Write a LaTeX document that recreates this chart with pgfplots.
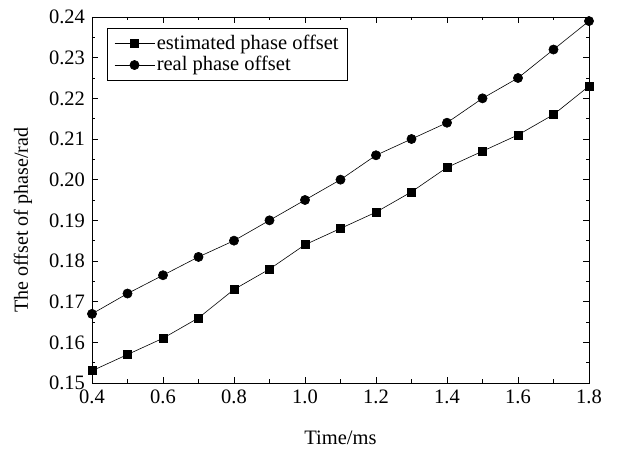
\documentclass[border=0pt]{standalone}
\usepackage{pgfplots}
\pgfplotsset{compat=1.18}
\usepackage{fontspec}
\setmainfont{Liberation Serif}

\begin{document}
\fontsize{20.5}{24}\selectfont
\begin{tikzpicture}
\path[use as bounding box] (-92pt,-69pt) rectangle (530pt,383pt);
\begin{axis}[
    at={(0pt,0pt)}, anchor=south west,
    scale only axis,
    width=497pt, height=366pt,
    xmin=0.4, xmax=1.8, ymin=0.15, ymax=0.24,
    xtick={0.4,0.6,...,1.8}, ytick={0.15,0.16,...,0.24},
    minor x tick num=1, minor y tick num=1,
    tick align=inside, tick pos=both,
    major tick length=6pt, minor tick length=3.5pt,
    every tick/.style={black, line width=0.6pt},
    axis line style={line width=0.8pt},
    xticklabel style={/pgf/number format/.cd, fixed, fixed zerofill, precision=1},
    yticklabel style={/pgf/number format/.cd, fixed, fixed zerofill, precision=2},
    /pgf/number format/assume math mode=true,
    xlabel={Time/ms}, ylabel={The offset of phase/rad},
    every axis x label/.style={at={(axis description cs:0.5,-0.15)}, anchor=center},
    every axis y label/.style={at={(axis description cs:-0.139,0.445)}, rotate=90, anchor=center,
        font=\fontsize{20}{24}\selectfont},
    legend style={at={(0.03,0.97)}, anchor=north west, draw=black,
        line width=0.6pt, inner xsep=7pt, inner ysep=4.5pt, row sep=0pt},
    legend cell align=left,
    legend image code/.code={\draw[mark repeat=2,mark phase=2] plot coordinates {(0pt,0pt) (20pt,0pt) (40pt,0pt)};},
]
\addplot[black, line width=0.6pt, mark=square*, mark size=4pt] coordinates {
    (0.4,0.153) (0.5,0.157) (0.6,0.161) (0.7,0.166) (0.8,0.173)
    (0.9,0.178) (1.0,0.184) (1.1,0.188) (1.2,0.192) (1.3,0.197)
    (1.4,0.203) (1.5,0.207) (1.6,0.211) (1.7,0.216) (1.8,0.223)
};
\addlegendentry{estimated phase offset}
\addplot[black, line width=0.6pt, mark=*, mark size=4.6pt] coordinates {
    (0.4,0.167) (0.5,0.172) (0.6,0.1765) (0.7,0.181) (0.8,0.185)
    (0.9,0.190) (1.0,0.195) (1.1,0.200) (1.2,0.206) (1.3,0.210)
    (1.4,0.214) (1.5,0.220) (1.6,0.225) (1.7,0.232) (1.8,0.239)
};
\addlegendentry{real phase offset}
\end{axis}
\end{tikzpicture}
\end{document}
